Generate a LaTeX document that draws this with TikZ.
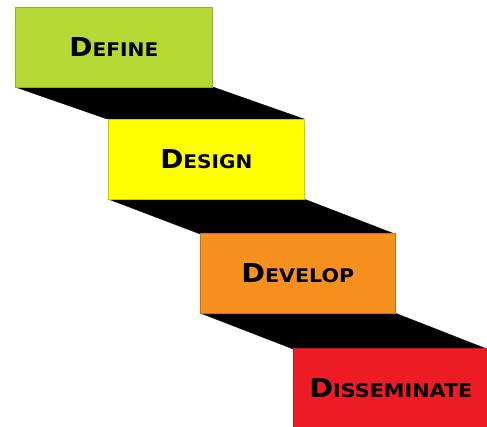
\documentclass[tikz,border=0pt]{standalone}
\usepackage{fontspec}
\setmainfont{DejaVu Sans}
\usepackage{graphicx}
\definecolor{cdefine}{RGB}{181,216,52}
\definecolor{cdesign}{RGB}{255,255,0}
\definecolor{cdevelop}{RGB}{247,144,30}
\definecolor{cdissem}{RGB}{237,28,36}
\newcommand{\stepname}[3]{\resizebox{#1}{19pt}{\bfseries\fontsize{25}{25}\selectfont #2\fontsize{18}{18}\selectfont #3}}
\tikzset{
  stepbox/.style={draw=#1!80!black, line width=0.6pt, fill=#1, anchor=north west, minimum width=196pt, minimum height=80pt, inner sep=0pt, font=\bfseries},
  band/.style={fill=black, draw=black, line width=0.3pt}
}
\begin{document}
\begin{tikzpicture}[x=1pt,y=-1pt]
\useasboundingbox (0,0) rectangle (487,427);
% black treads
\fill[band] (15,87) -- (213,87) -- (304,119) -- (107,119) -- cycle;
\fill[band] (108,199) -- (304,199) -- (395,234) -- (200,234) -- cycle;
\fill[band] (200,313) -- (395,313) -- (487,349) -- (293,349) -- cycle;
% boxes
\node[stepbox=cdefine, minimum width=197pt] (define) at (15,7) {};
\node at (define.center) {\stepname{89pt}{D}{EFINE}};
\node[stepbox=cdesign] (design) at (108,119) {};
\node at (design.center) {\stepname{92pt}{D}{ESIGN}};
\node[stepbox=cdevelop, minimum width=195pt] (develop) at (200,233) {};
\node at (develop.center) {\stepname{113pt}{D}{EVELOP}};
\node[stepbox=cdissem, minimum width=195pt, minimum height=80pt] (dissem) at (293,348) {};
\node at (dissem.center) {\stepname{163pt}{D}{ISSEMINATE}};
\end{tikzpicture}
\end{document}
